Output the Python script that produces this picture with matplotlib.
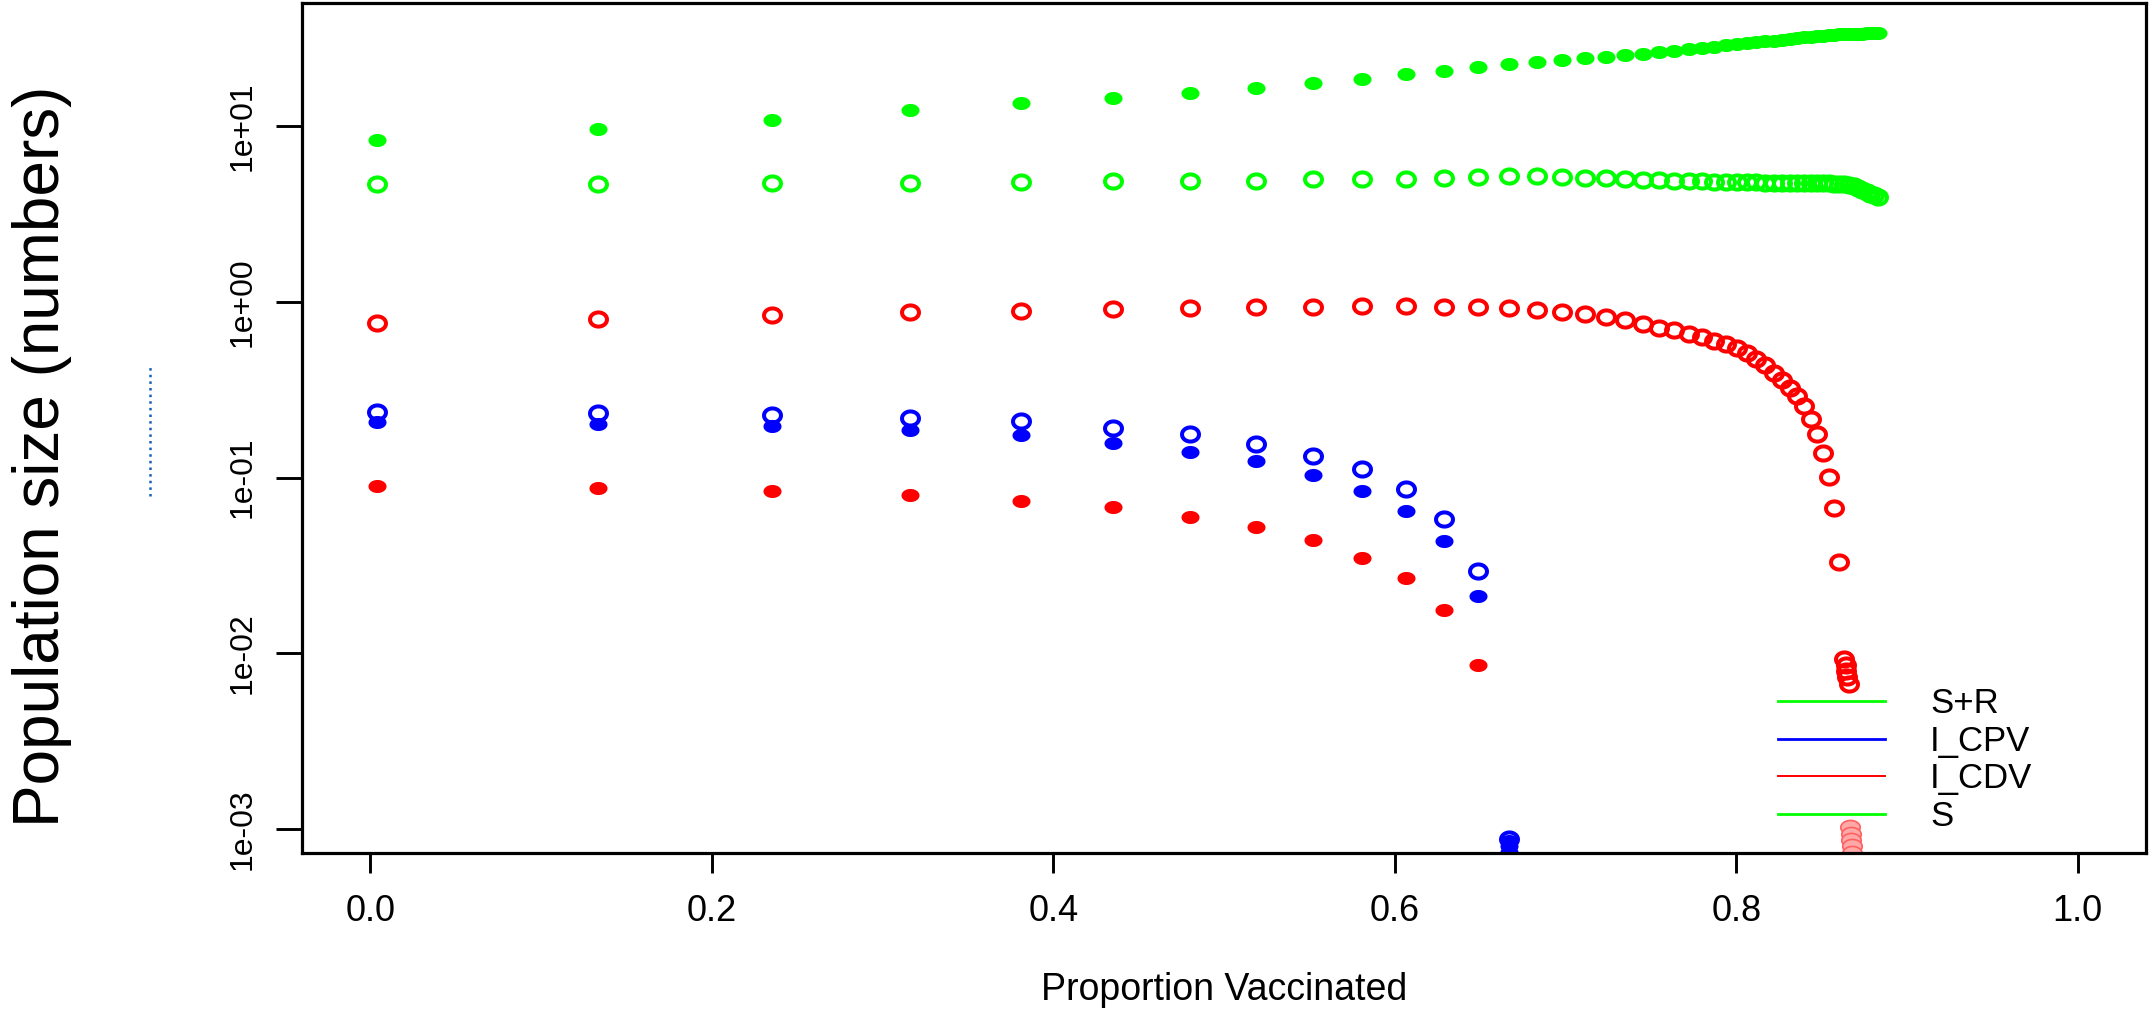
import numpy as np
import matplotlib.pyplot as plt
from matplotlib.path import Path
from matplotlib.lines import Line2D

plt.rcParams['font.family'] = ['Liberation Sans', 'DejaVu Sans']

# proportion vaccinated (x positions)
prop_vacc = [0.004, 0.1334, 0.2355, 0.3160, 0.3812, 0.4350, 0.4802, 0.5188, 0.5520, 0.5809,
             0.6063, 0.6288, 0.6489, 0.6669, 0.6831, 0.6979, 0.7113, 0.7236, 0.7349, 0.7453,
             0.7549, 0.7638, 0.7721, 0.7798, 0.7871, 0.7938, 0.8002, 0.8061, 0.8117, 0.8171,
             0.8221, 0.8268, 0.8313, 0.8356, 0.8396, 0.8435, 0.8472, 0.8507, 0.8541, 0.8573,
             0.8603, 0.8633, 0.8661, 0.8688, 0.8714, 0.8739, 0.8763, 0.8786, 0.8808, 0.8830]

# S+R (green, filled)
sr_filled = [8.3, 9.6, 10.9, 12.4, 13.5, 14.4, 15.5, 16.6, 17.7, 18.6,
             19.7, 20.6, 21.7, 22.7, 23.1, 23.7, 24.3, 24.7, 25.3, 25.7,
             26.4, 26.9, 27.4, 27.9, 28.4, 28.8, 29.2, 29.6, 30.0, 30.4,
             30.7, 31.0, 31.4, 31.7, 32.0, 32.3, 32.5, 32.8, 33.0, 33.15,
             33.3, 33.4, 33.5, 33.55, 33.6, 33.65, 33.7, 33.7, 33.75, 33.75]

# S (green, open)
s_open = [4.68, 4.70, 4.73, 4.76, 4.80, 4.86, 4.86, 4.90, 4.98, 5.0,
          5.03, 5.07, 5.14, 5.2, 5.2, 5.12, 5.07, 5.05, 5.0, 4.97,
          4.92, 4.89, 4.87, 4.85, 4.83, 4.82, 4.81, 4.80, 4.79, 4.78,
          4.77, 4.76, 4.76, 4.75, 4.75, 4.74, 4.74, 4.73, 4.72, 4.71,
          4.70, 4.68, 4.64, 4.56, 4.46, 4.36, 4.24, 4.13, 4.04, 3.96]

# I_CDV (red, open)
cdv_open = [0.76, 0.80, 0.84, 0.87, 0.89, 0.91, 0.925, 0.935, 0.94, 0.945,
            0.945, 0.94, 0.93, 0.92, 0.90, 0.875, 0.849, 0.815, 0.785, 0.748,
            0.713, 0.689, 0.655, 0.627, 0.598, 0.573, 0.546, 0.511, 0.475, 0.435,
            0.395, 0.357, 0.3245, 0.29, 0.257, 0.216, 0.1775, 0.138, 0.1005, 0.0668,
            0.0332, 0.0093, 0.0067]

# stacked red points near x = 0.865
cdv_stack_x = [0.8641, 0.8645, 0.8649]
cdv_stack_y = [0.0086, 0.0079, 0.0073]

# I_CDV (red, filled)
cdv_filled = [0.090, 0.0873, 0.0843, 0.080, 0.074, 0.0678, 0.060, 0.0526, 0.0442, 0.035,
              0.0267, 0.0177, 0.0086]

# I_CPV (blue, open / filled)
cpv_open = [0.2355, 0.232, 0.2285, 0.219, 0.2094, 0.192, 0.176, 0.1557, 0.1334, 0.1125,
            0.086, 0.058, 0.0292, 0.00088]
cpv_filled = [0.2065, 0.202, 0.1955, 0.1854, 0.175, 0.157, 0.1405, 0.124, 0.104, 0.0843,
              0.0646, 0.0434, 0.0211, 0.00080]
cpv_low_y = [0.00085, 0.00074]

# faint red cluster at the bottom edge
cdv_low_x = [0.8668, 0.8671, 0.8674, 0.8677, 0.8680]
cdv_low_y = [0.00102, 0.00094, 0.00087, 0.00080, 0.00073]

legend_labels = ['S+R', 'I_CPV', 'I_CDV', 'S']
legend_colors = ['#00ff00', '#0000ff', '#ff0000', '#00ff00']


def ellipse(aspect):
    t = np.linspace(0, 2 * np.pi, 61)
    return Path(np.column_stack([np.cos(t), np.sin(t) / aspect]), closed=True)


ring = ellipse(1.2)
dot = ellipse(1.38)

fig = plt.figure(figsize=(21.51, 10.09), dpi=100)
ax = fig.add_axes([0.1404, 0.1546, 0.8573, 0.8424])

x = np.array(prop_vacc)
open_kw = dict(ls='none', marker=ring, ms=12.2, mew=2.9, mfc='none')
fill_kw = dict(ls='none', marker=dot, ms=13, mew=0)

ax.plot(x[:len(sr_filled)], sr_filled, color='#00ff00', **fill_kw)
ax.plot(x[:len(s_open)], s_open, mec='#00ff00', **open_kw)
ax.plot(cdv_low_x, cdv_low_y, ls='none', marker=dot, ms=14, mew=1.2,
        mfc='#ffa8a8', mec='#ff6060')
ax.plot(x[:len(cdv_open)], cdv_open, mec='#ff0000', **open_kw)
ax.plot(cdv_stack_x, cdv_stack_y, mec='#ff0000', **open_kw)
ax.plot(x[:len(cdv_filled)], cdv_filled, color='#ff0000', **fill_kw)
ax.plot(x[:len(cpv_open)], cpv_open, mec='#0000ff', **open_kw)
ax.plot(x[:len(cpv_filled)], cpv_filled, color='#0000ff', **fill_kw)
ax.plot([x[len(cpv_open) - 1]] * len(cpv_low_y), cpv_low_y, color='#0000ff', **fill_kw)

ax.set_yscale('log')
ax.set_xlim(-0.04, 1.04)
ax.set_ylim(10 ** -3.137, 10 ** 1.701)

ax.set_xticks([0.0, 0.2, 0.4, 0.6, 0.8, 1.0])
ax.set_xticklabels(['0.0', '0.2', '0.4', '0.6', '0.8', '1.0'])
ax.set_yticks([1e-3, 1e-2, 1e-1, 1e0, 1e1])
ax.set_yticklabels(['1e-03', '1e-02', '1e-01', '1e+00', '1e+01'])
ax.yaxis.set_minor_locator(plt.NullLocator())

ax.tick_params(axis='x', length=14.4, width=2.1, pad=15, labelsize=26)
ax.tick_params(axis='y', length=18.7, width=2.1, pad=13, labelsize=23, labelrotation=90)
for lab in ax.get_yticklabels():
    lab.set_va('center')
for sp in ax.spines.values():
    sp.set_linewidth(2.3)

ax.set_xlabel('Proportion Vaccinated', fontsize=27, va='top')
ax.xaxis.set_label_coords(0.5, -0.1405)
ax.set_ylabel('Population size (numbers)', fontsize=46)
ax.yaxis.set_label_coords(-0.1248, 0.467)

handles = [Line2D([], [], color=c, lw=lw) for c, lw in zip(legend_colors, [2.0, 2.0, 1.4, 2.0])]
ax.legend(handles, legend_labels, loc='center left', bbox_to_anchor=(0.8003, 0.1094),
          frameon=False, fontsize=25, handlelength=3.08, handletextpad=1.3,
          labelspacing=0.13, borderpad=0, borderaxespad=0)

# stray dotted mark left of the tick labels
fig.add_artist(Line2D([0.0697, 0.0697], [0.5084, 0.6363], color='#1560bd', lw=1.8, ls=':'))

fig.savefig('out.png', dpi=100)
